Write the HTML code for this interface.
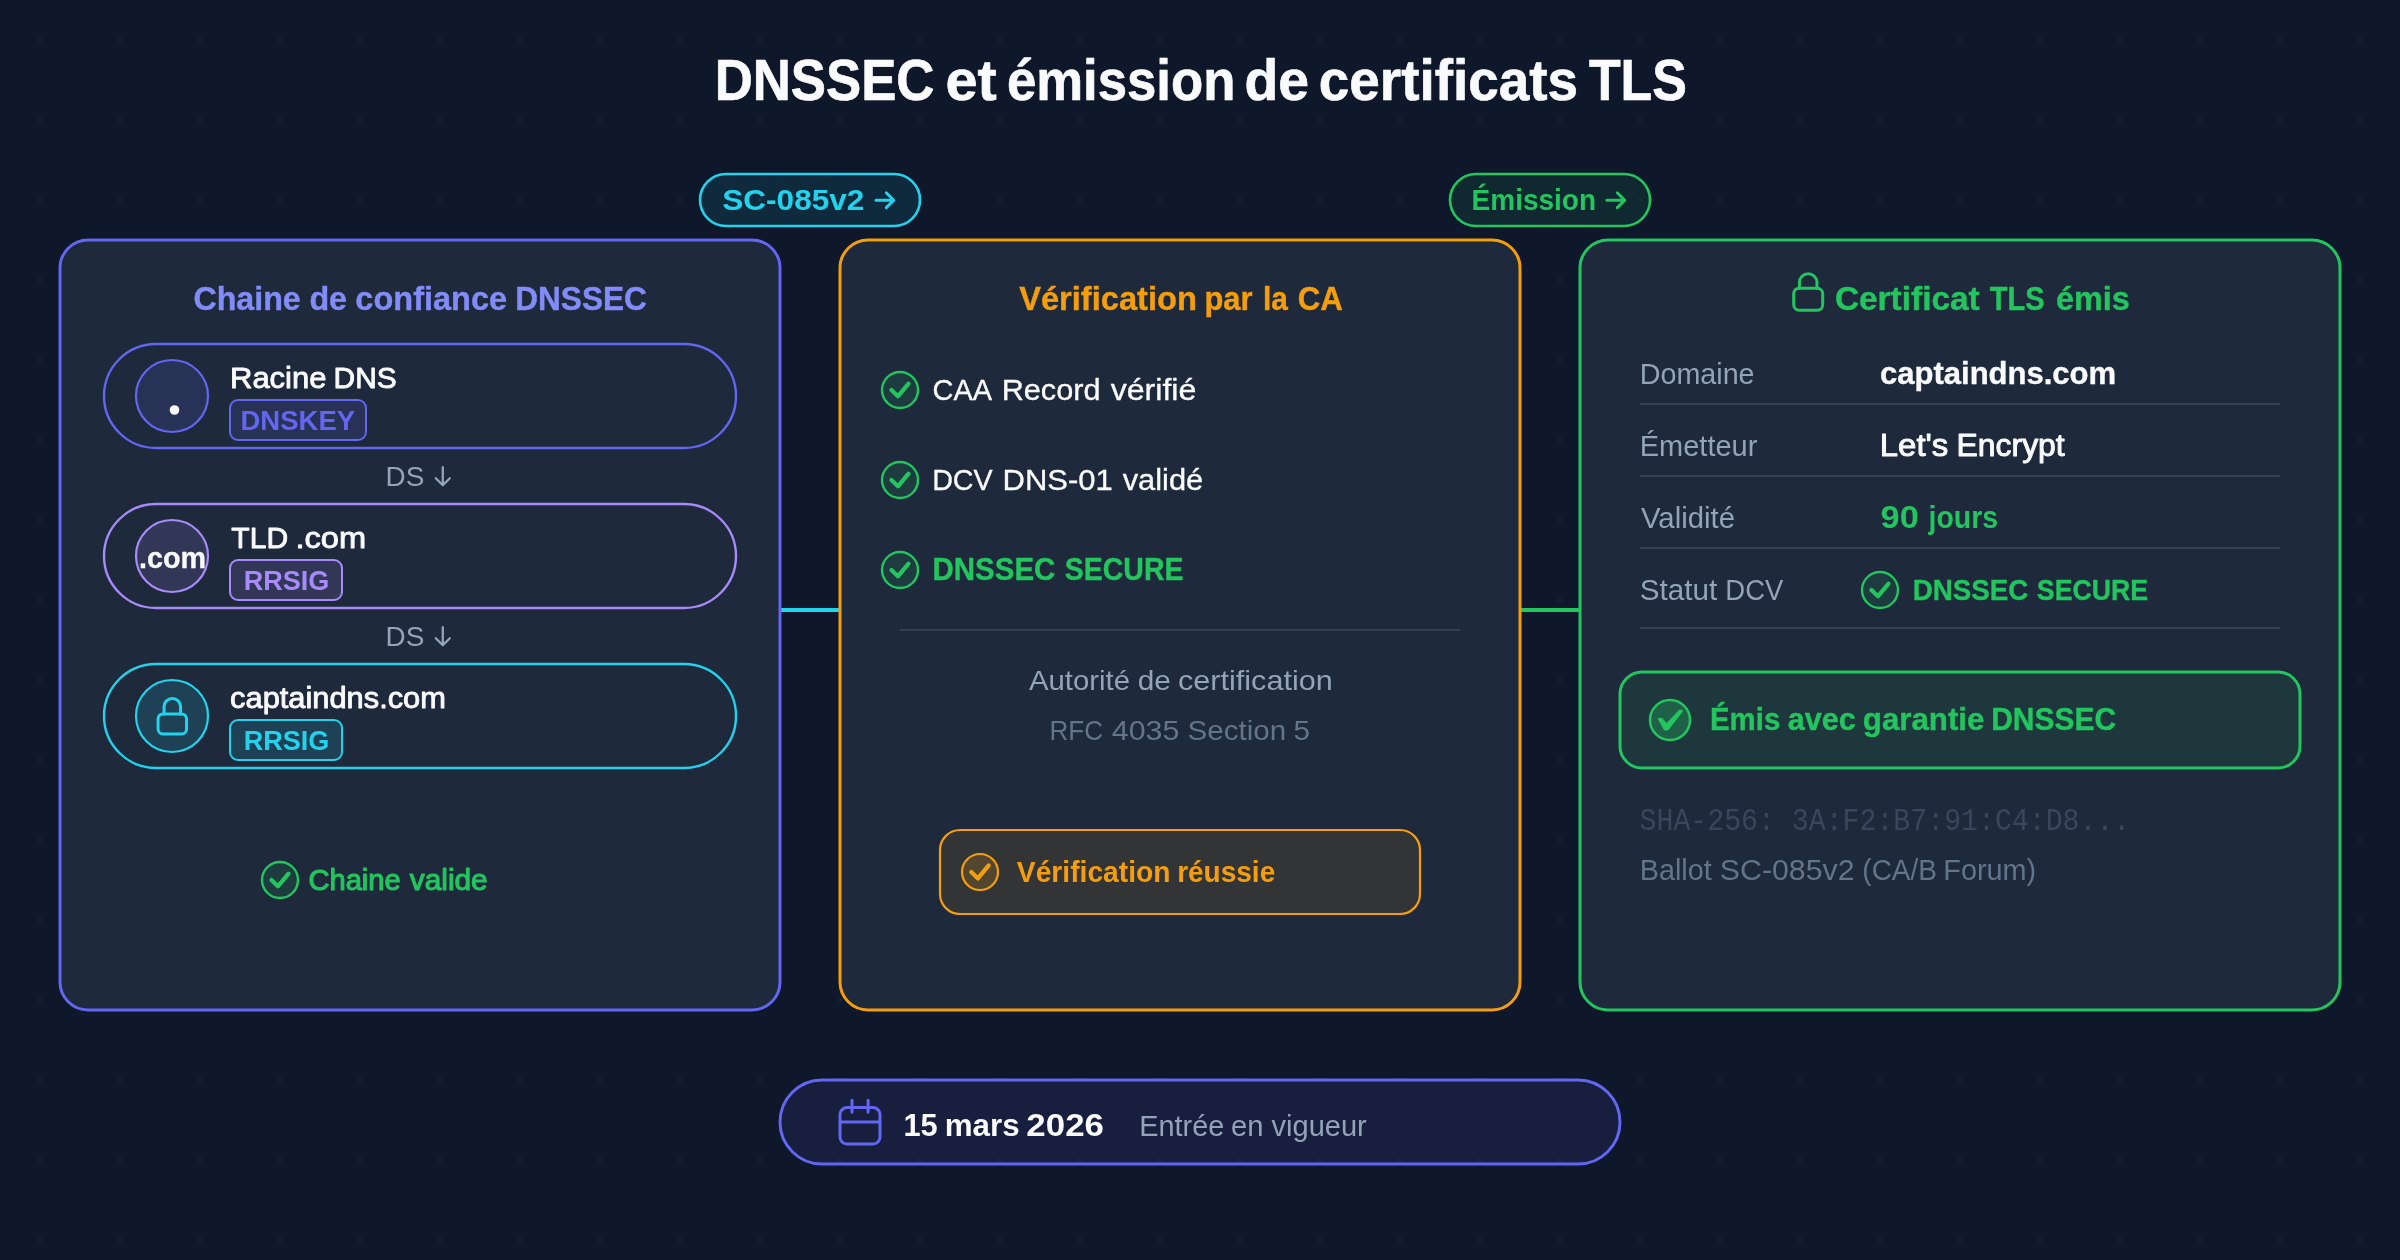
<!DOCTYPE html>
<html lang="fr"><head><meta charset="utf-8"><title>DNSSEC et émission de certificats TLS</title>
<style>
html,body{margin:0;padding:0;background:#0f172a;}
body{width:2400px;height:1260px;overflow:hidden;font-family:"Liberation Sans",sans-serif;}
svg{display:block;will-change:transform;}
svg text{font-family:"Liberation Sans",sans-serif;}
svg text.mono{font-family:"Liberation Mono",monospace;}
</style></head><body>
<svg width="2400" height="1260" viewBox="0 0 2400 1260">
<defs><pattern id="dots" x="0" y="0" width="80" height="80" patternUnits="userSpaceOnUse"><circle cx="40" cy="40" r="1.9" fill="#1e293b" fill-opacity="0.6"/></pattern></defs>
<rect width="2400" height="1260" fill="#0f172a"/>
<rect width="2400" height="1260" fill="url(#dots)"/>
<text id="title_0" x="714.75" y="100" font-size="57.5" fill="#f8fafc" font-weight="700" textLength="219.66" lengthAdjust="spacingAndGlyphs" stroke="#f8fafc" stroke-width="0.69" stroke-linejoin="round">DNSSEC</text>
<text id="title_1" x="945.43" y="100" font-size="57.5" fill="#f8fafc" font-weight="700" textLength="51.29" lengthAdjust="spacingAndGlyphs" stroke="#f8fafc" stroke-width="0.69" stroke-linejoin="round">et</text>
<text id="title_2" x="1006.89" y="100" font-size="57.5" fill="#f8fafc" font-weight="700" textLength="228.50" lengthAdjust="spacingAndGlyphs" stroke="#f8fafc" stroke-width="0.69" stroke-linejoin="round">émission</text>
<text id="title_3" x="1244.46" y="100" font-size="57.5" fill="#f8fafc" font-weight="700" textLength="64.57" lengthAdjust="spacingAndGlyphs" stroke="#f8fafc" stroke-width="0.69" stroke-linejoin="round">de</text>
<text id="title_4" x="1318.85" y="100" font-size="57.5" fill="#f8fafc" font-weight="700" textLength="259.19" lengthAdjust="spacingAndGlyphs" stroke="#f8fafc" stroke-width="0.69" stroke-linejoin="round">certificats</text>
<text id="title_5" x="1588.88" y="100" font-size="57.5" fill="#f8fafc" font-weight="700" textLength="98.01" lengthAdjust="spacingAndGlyphs" stroke="#f8fafc" stroke-width="0.69" stroke-linejoin="round">TLS</text>
<line x1="780" y1="610" x2="840" y2="610" stroke="#22d3ee" stroke-width="4"/>
<line x1="1520" y1="610" x2="1580" y2="610" stroke="#22c55e" stroke-width="4"/>
<rect x="700" y="174" width="220" height="52" rx="26" fill="#22d3ee" fill-opacity="0.1" stroke="#22d3ee" stroke-width="2.6"/>
<text id="pill1" x="722.27" y="210" font-size="29.5" fill="#22d3ee" font-weight="700" textLength="142.05" lengthAdjust="spacingAndGlyphs">SC-085v2</text>
<path d="M876 200.2H893.7M886.3000000000001 192.79999999999998L893.7 200.2L886.3000000000001 207.6" fill="none" stroke="#22d3ee" stroke-width="3" stroke-linecap="round" stroke-linejoin="round"/>
<rect x="1450" y="174" width="200" height="52" rx="26" fill="#22c55e" fill-opacity="0.1" stroke="#22c55e" stroke-width="2.6"/>
<text id="pill2" x="1471.62" y="210" font-size="29.5" fill="#22c55e" font-weight="700" textLength="124.41" lengthAdjust="spacingAndGlyphs">Émission</text>
<path d="M1606.8 200.2H1624.7M1617.3 192.79999999999998L1624.7 200.2L1617.3 207.6" fill="none" stroke="#22c55e" stroke-width="3" stroke-linecap="round" stroke-linejoin="round"/>
<rect x="60" y="240" width="720" height="770" rx="28" fill="#1e293b" stroke="#6366f1" stroke-width="3"/>
<text id="h1_0" x="193.43" y="310" font-size="33" fill="#818cf8" font-weight="700" textLength="107.35" lengthAdjust="spacingAndGlyphs" stroke="#818cf8" stroke-width="0.4" stroke-linejoin="round">Chaine</text>
<text id="h1_1" x="309.39" y="310" font-size="33" fill="#818cf8" font-weight="700" textLength="37.73" lengthAdjust="spacingAndGlyphs" stroke="#818cf8" stroke-width="0.4" stroke-linejoin="round">de</text>
<text id="h1_2" x="355.37" y="310" font-size="33" fill="#818cf8" font-weight="700" textLength="151.73" lengthAdjust="spacingAndGlyphs" stroke="#818cf8" stroke-width="0.4" stroke-linejoin="round">confiance</text>
<text id="h1_3" x="515.13" y="310" font-size="33" fill="#818cf8" font-weight="700" textLength="131.82" lengthAdjust="spacingAndGlyphs" stroke="#818cf8" stroke-width="0.4" stroke-linejoin="round">DNSSEC</text>
<rect x="104" y="344" width="632" height="104" rx="52" fill="#1e293b" stroke="#6366f1" stroke-width="2.4"/>
<circle cx="172" cy="396" r="36" fill="#6366f1" fill-opacity="0.15" stroke="#6366f1" stroke-width="2.2"/>
<text id="n1t_0" x="229.99" y="387.8" font-size="29.5" fill="#f8fafc" font-weight="400" textLength="96.52" lengthAdjust="spacingAndGlyphs" stroke="#f8fafc" stroke-width="0.89" stroke-linejoin="round">Racine</text>
<text id="n1t_1" x="333.58" y="387.8" font-size="29.5" fill="#f8fafc" font-weight="400" textLength="63.04" lengthAdjust="spacingAndGlyphs" stroke="#f8fafc" stroke-width="0.89" stroke-linejoin="round">DNS</text>
<rect x="230" y="400" width="136" height="40" rx="8" fill="#6366f1" fill-opacity="0.15" stroke="#6366f1" stroke-width="2"/>
<text id="n1b" x="240.50" y="430" font-size="27.5" fill="#6366f1" font-weight="700" textLength="114.59" lengthAdjust="spacingAndGlyphs">DNSKEY</text>
<circle cx="174.5" cy="410" r="4.8" fill="#f8fafc"/>
<text id="ds1" x="385.60" y="486" font-size="28" fill="#94a3b8" font-weight="400" textLength="38.83" lengthAdjust="spacingAndGlyphs">DS</text>
<path d="M442.8 467.2V485.2M435.8 478.2L442.8 485.2L449.8 478.2" fill="none" stroke="#94a3b8" stroke-width="2.3" stroke-linecap="round" stroke-linejoin="round"/>
<rect x="104" y="504" width="632" height="104" rx="52" fill="#1e293b" stroke="#a78bfa" stroke-width="2.4"/>
<circle cx="172" cy="556" r="36" fill="#a78bfa" fill-opacity="0.15" stroke="#a78bfa" stroke-width="2.2"/>
<text id="n2t_0" x="231.36" y="547.8" font-size="29.5" fill="#f8fafc" font-weight="400" textLength="56.73" lengthAdjust="spacingAndGlyphs" stroke="#f8fafc" stroke-width="0.89" stroke-linejoin="round">TLD</text>
<text id="n2t_1" x="295.45" y="547.8" font-size="29.5" fill="#f8fafc" font-weight="400" textLength="70.66" lengthAdjust="spacingAndGlyphs" stroke="#f8fafc" stroke-width="0.89" stroke-linejoin="round">.com</text>
<rect x="230" y="560" width="112" height="40" rx="8" fill="#a78bfa" fill-opacity="0.15" stroke="#a78bfa" stroke-width="2"/>
<text id="n2b" x="243.67" y="590" font-size="27.5" fill="#a78bfa" font-weight="700" textLength="85.66" lengthAdjust="spacingAndGlyphs">RRSIG</text>
<text id="dotcom" x="138.99" y="568" font-size="29.5" fill="#f8fafc" font-weight="700" textLength="67.03" lengthAdjust="spacingAndGlyphs" stroke="#f8fafc" stroke-width="0.35" stroke-linejoin="round">.com</text>
<text id="ds2" x="385.60" y="646" font-size="28" fill="#94a3b8" font-weight="400" textLength="38.83" lengthAdjust="spacingAndGlyphs">DS</text>
<path d="M442.8 627.2V645.2M435.8 638.2L442.8 645.2L449.8 638.2" fill="none" stroke="#94a3b8" stroke-width="2.3" stroke-linecap="round" stroke-linejoin="round"/>
<rect x="104" y="664" width="632" height="104" rx="52" fill="#1e293b" stroke="#22d3ee" stroke-width="2.4"/>
<circle cx="172" cy="716" r="36" fill="#22d3ee" fill-opacity="0.15" stroke="#22d3ee" stroke-width="2.2"/>
<text id="n3t" x="230.10" y="707.8" font-size="29.5" fill="#f8fafc" font-weight="400" textLength="215.81" lengthAdjust="spacingAndGlyphs" stroke="#f8fafc" stroke-width="0.89" stroke-linejoin="round">captaindns.com</text>
<rect x="230" y="720" width="112" height="40" rx="8" fill="#22d3ee" fill-opacity="0.15" stroke="#22d3ee" stroke-width="2"/>
<text id="n3b" x="243.67" y="750" font-size="27.5" fill="#22d3ee" font-weight="700" textLength="85.66" lengthAdjust="spacingAndGlyphs">RRSIG</text>
<g fill="none" stroke="#22d3ee" stroke-width="3" stroke-linecap="round" stroke-linejoin="round"><rect x="158.05" y="713.95" width="28.5" height="20" rx="5"/><path d="M164.05 713.95V706.65a8.25 8.25 0 0 1 16.5 0V713.95"/></g>
<circle cx="280" cy="880" r="18" fill="#22c55e" fill-opacity="0.13" stroke="#22c55e" stroke-width="2.4"/>
<path d="M271.40 880.10L277.90 886.30L288.50 873.60" fill="none" stroke="#22c55e" stroke-width="4.2" stroke-linecap="round" stroke-linejoin="round"/>
<text id="valid_0" x="308.43" y="890" font-size="28.8" fill="#22c55e" font-weight="400" textLength="92.24" lengthAdjust="spacingAndGlyphs" stroke="#22c55e" stroke-width="1.1" stroke-linejoin="round">Chaine</text>
<text id="valid_1" x="409.79" y="890" font-size="28.8" fill="#22c55e" font-weight="400" textLength="77.90" lengthAdjust="spacingAndGlyphs" stroke="#22c55e" stroke-width="1.1" stroke-linejoin="round">valide</text>
<rect x="840" y="240" width="680" height="770" rx="28" fill="#1e293b" stroke="#f59e0b" stroke-width="3"/>
<text id="h2_0" x="1019.17" y="310" font-size="33" fill="#f59e0b" font-weight="700" textLength="177.66" lengthAdjust="spacingAndGlyphs" stroke="#f59e0b" stroke-width="0.4" stroke-linejoin="round">Vérification</text>
<text id="h2_1" x="1204.47" y="310" font-size="33" fill="#f59e0b" font-weight="700" textLength="48.06" lengthAdjust="spacingAndGlyphs" stroke="#f59e0b" stroke-width="0.4" stroke-linejoin="round">par</text>
<text id="h2_2" x="1262.90" y="310" font-size="33" fill="#f59e0b" font-weight="700" textLength="24.86" lengthAdjust="spacingAndGlyphs" stroke="#f59e0b" stroke-width="0.4" stroke-linejoin="round">la</text>
<text id="h2_3" x="1297.75" y="310" font-size="33" fill="#f59e0b" font-weight="700" textLength="45.17" lengthAdjust="spacingAndGlyphs" stroke="#f59e0b" stroke-width="0.4" stroke-linejoin="round">CA</text>
<circle cx="900" cy="390" r="18" fill="#22c55e" fill-opacity="0.13" stroke="#22c55e" stroke-width="2.4"/>
<path d="M891.40 390.10L897.90 396.30L908.50 383.60" fill="none" stroke="#22c55e" stroke-width="4.2" stroke-linecap="round" stroke-linejoin="round"/>
<text id="c1_0" x="932.56" y="400.2" font-size="30" fill="#f8fafc" font-weight="400" textLength="59.51" lengthAdjust="spacingAndGlyphs" stroke="#f8fafc" stroke-width="0.35" stroke-linejoin="round">CAA</text>
<text id="c1_1" x="1001.67" y="400.2" font-size="30" fill="#f8fafc" font-weight="400" textLength="98.90" lengthAdjust="spacingAndGlyphs" stroke="#f8fafc" stroke-width="0.35" stroke-linejoin="round">Record</text>
<text id="c1_2" x="1110.70" y="400.2" font-size="30" fill="#f8fafc" font-weight="400" textLength="85.65" lengthAdjust="spacingAndGlyphs" stroke="#f8fafc" stroke-width="0.35" stroke-linejoin="round">vérifié</text>
<circle cx="900" cy="480" r="18" fill="#22c55e" fill-opacity="0.13" stroke="#22c55e" stroke-width="2.4"/>
<path d="M891.40 480.10L897.90 486.30L908.50 473.60" fill="none" stroke="#22c55e" stroke-width="4.2" stroke-linecap="round" stroke-linejoin="round"/>
<text id="c2_0" x="932.18" y="490.2" font-size="30" fill="#f8fafc" font-weight="400" textLength="60.53" lengthAdjust="spacingAndGlyphs" stroke="#f8fafc" stroke-width="0.35" stroke-linejoin="round">DCV</text>
<text id="c2_1" x="1002.54" y="490.2" font-size="30" fill="#f8fafc" font-weight="400" textLength="110.14" lengthAdjust="spacingAndGlyphs" stroke="#f8fafc" stroke-width="0.35" stroke-linejoin="round">DNS-01</text>
<text id="c2_2" x="1122.70" y="490.2" font-size="30" fill="#f8fafc" font-weight="400" textLength="80.59" lengthAdjust="spacingAndGlyphs" stroke="#f8fafc" stroke-width="0.35" stroke-linejoin="round">validé</text>
<circle cx="900" cy="570" r="18" fill="#22c55e" fill-opacity="0.13" stroke="#22c55e" stroke-width="2.4"/>
<path d="M891.40 570.10L897.90 576.30L908.50 563.60" fill="none" stroke="#22c55e" stroke-width="4.2" stroke-linecap="round" stroke-linejoin="round"/>
<text id="c3_0" x="932.56" y="579.7" font-size="31" fill="#22c55e" font-weight="700" textLength="122.83" lengthAdjust="spacingAndGlyphs" stroke="#22c55e" stroke-width="0.37" stroke-linejoin="round">DNSSEC</text>
<text id="c3_1" x="1064.84" y="579.7" font-size="31" fill="#22c55e" font-weight="700" textLength="118.59" lengthAdjust="spacingAndGlyphs" stroke="#22c55e" stroke-width="0.37" stroke-linejoin="round">SECURE</text>
<line x1="900" y1="630" x2="1460" y2="630" stroke="#334155" stroke-width="2"/>
<text id="auth_0" x="1028.96" y="690" font-size="28.5" fill="#94a3b8" font-weight="400" textLength="101.09" lengthAdjust="spacingAndGlyphs">Autorité</text>
<text id="auth_1" x="1137.65" y="690" font-size="28.5" fill="#94a3b8" font-weight="400" textLength="33.16" lengthAdjust="spacingAndGlyphs">de</text>
<text id="auth_2" x="1178.03" y="690" font-size="28.5" fill="#94a3b8" font-weight="400" textLength="154.72" lengthAdjust="spacingAndGlyphs">certification</text>
<text id="rfc_0" x="1049.56" y="740" font-size="28.5" fill="#64748b" font-weight="400" textLength="53.57" lengthAdjust="spacingAndGlyphs">RFC</text>
<text id="rfc_1" x="1111.83" y="740" font-size="28.5" fill="#64748b" font-weight="400" textLength="67.56" lengthAdjust="spacingAndGlyphs">4035</text>
<text id="rfc_2" x="1187.59" y="740" font-size="28.5" fill="#64748b" font-weight="400" textLength="98.59" lengthAdjust="spacingAndGlyphs">Section</text>
<text id="rfc_3" x="1293.59" y="740" font-size="28.5" fill="#64748b" font-weight="400" textLength="16.50" lengthAdjust="spacingAndGlyphs">5</text>
<rect x="940" y="830" width="480" height="84" rx="20" fill="#f59e0b" fill-opacity="0.1" stroke="#f59e0b" stroke-width="2.2"/>
<circle cx="980" cy="872" r="18" fill="#f59e0b" fill-opacity="0.17" stroke="#f59e0b" stroke-width="2.2"/>
<path d="M971.23 872.10L977.86 878.43L988.67 865.47" fill="none" stroke="#f59e0b" stroke-width="4.2" stroke-linecap="round" stroke-linejoin="round"/>
<text id="succ_0" x="1016.85" y="881.7" font-size="29.5" fill="#f59e0b" font-weight="700" textLength="153.67" lengthAdjust="spacingAndGlyphs">Vérification</text>
<text id="succ_1" x="1177.16" y="881.7" font-size="29.5" fill="#f59e0b" font-weight="700" textLength="98.05" lengthAdjust="spacingAndGlyphs">réussie</text>
<rect x="1580" y="240" width="760" height="770" rx="28" fill="#1e293b" stroke="#22c55e" stroke-width="3"/>
<g fill="none" stroke="#22c55e" stroke-width="3" stroke-linecap="round" stroke-linejoin="round"><rect x="1793.70" y="288.25" width="29" height="22" rx="5.5"/><path d="M1799.45 288.25V282.45a8.75 8.75 0 0 1 17.5 0V288.25"/></g>
<text id="h3_0" x="1834.92" y="309.8" font-size="33" fill="#22c55e" font-weight="700" textLength="144.84" lengthAdjust="spacingAndGlyphs" stroke="#22c55e" stroke-width="0.4" stroke-linejoin="round">Certificat</text>
<text id="h3_1" x="1989.78" y="309.8" font-size="33" fill="#22c55e" font-weight="700" textLength="54.76" lengthAdjust="spacingAndGlyphs" stroke="#22c55e" stroke-width="0.4" stroke-linejoin="round">TLS</text>
<text id="h3_2" x="2055.92" y="309.8" font-size="33" fill="#22c55e" font-weight="700" textLength="73.79" lengthAdjust="spacingAndGlyphs" stroke="#22c55e" stroke-width="0.4" stroke-linejoin="round">émis</text>
<text id="l1" x="1639.76" y="384.3" font-size="29.5" fill="#94a3b8" font-weight="400" textLength="114.82" lengthAdjust="spacingAndGlyphs">Domaine</text>
<text id="l2" x="1639.74" y="456.3" font-size="29.5" fill="#94a3b8" font-weight="400" textLength="117.59" lengthAdjust="spacingAndGlyphs">Émetteur</text>
<text id="l3" x="1640.95" y="528.2" font-size="29.5" fill="#94a3b8" font-weight="400" textLength="94.07" lengthAdjust="spacingAndGlyphs">Validité</text>
<text id="l4_0" x="1639.70" y="600.2" font-size="29.5" fill="#94a3b8" font-weight="400" textLength="77.43" lengthAdjust="spacingAndGlyphs">Statut</text>
<text id="l4_1" x="1725.36" y="600.2" font-size="29.5" fill="#94a3b8" font-weight="400" textLength="57.96" lengthAdjust="spacingAndGlyphs">DCV</text>
<text id="v1" x="1879.98" y="384.3" font-size="32" fill="#f8fafc" font-weight="700" textLength="236.19" lengthAdjust="spacingAndGlyphs" stroke="#f8fafc" stroke-width="0.38" stroke-linejoin="round">captaindns.com</text>
<text id="v2_0" x="1879.77" y="456.3" font-size="31" fill="#f8fafc" font-weight="400" textLength="68.52" lengthAdjust="spacingAndGlyphs" stroke="#f8fafc" stroke-width="0.93" stroke-linejoin="round">Let's</text>
<text id="v2_1" x="1956.56" y="456.3" font-size="31" fill="#f8fafc" font-weight="400" textLength="108.18" lengthAdjust="spacingAndGlyphs" stroke="#f8fafc" stroke-width="0.93" stroke-linejoin="round">Encrypt</text>
<text id="v3_0" x="1880.64" y="528.2" font-size="31" fill="#22c55e" font-weight="700" textLength="38.19" lengthAdjust="spacingAndGlyphs">90</text>
<text id="v3_1" x="1928.53" y="528.2" font-size="31" fill="#22c55e" font-weight="700" textLength="69.52" lengthAdjust="spacingAndGlyphs">jours</text>
<circle cx="1880" cy="590" r="18" fill="#22c55e" fill-opacity="0.13" stroke="#22c55e" stroke-width="2.4"/>
<path d="M1871.40 590.10L1877.90 596.30L1888.50 583.60" fill="none" stroke="#22c55e" stroke-width="4.2" stroke-linecap="round" stroke-linejoin="round"/>
<text id="v4_0" x="1912.70" y="600.2" font-size="29.5" fill="#22c55e" font-weight="700" textLength="115.53" lengthAdjust="spacingAndGlyphs" stroke="#22c55e" stroke-width="0.35" stroke-linejoin="round">DNSSEC</text>
<text id="v4_1" x="2036.85" y="600.2" font-size="29.5" fill="#22c55e" font-weight="700" textLength="111.33" lengthAdjust="spacingAndGlyphs" stroke="#22c55e" stroke-width="0.35" stroke-linejoin="round">SECURE</text>
<line x1="1640" y1="404" x2="2280" y2="404" stroke="#334155" stroke-width="2"/>
<line x1="1640" y1="476" x2="2280" y2="476" stroke="#334155" stroke-width="2"/>
<line x1="1640" y1="548" x2="2280" y2="548" stroke="#334155" stroke-width="2"/>
<line x1="1640" y1="628" x2="2280" y2="628" stroke="#334155" stroke-width="2"/>
<rect x="1620" y="672" width="680" height="96" rx="22" fill="#22c55e" fill-opacity="0.09" stroke="#22c55e" stroke-width="3"/>
<circle cx="1670" cy="720" r="20" fill="#22c55e" fill-opacity="0.3" stroke="#22c55e" stroke-width="2.5"/>
<path d="M1658.1 718.7L1661.6 718.1L1666.75 723.4L1679.4 710L1682.2 710.3L1682 712.1L1668 730L1664.4 730Z" fill="#22c55e" stroke="#22c55e" stroke-width="0.9" stroke-linejoin="round"/>
<text id="emis_0" x="1709.96" y="730.3" font-size="31.5" fill="#22c55e" font-weight="700" textLength="70.32" lengthAdjust="spacingAndGlyphs" stroke="#22c55e" stroke-width="0.38" stroke-linejoin="round">Émis</text>
<text id="emis_1" x="1787.80" y="730.3" font-size="31.5" fill="#22c55e" font-weight="700" textLength="68.06" lengthAdjust="spacingAndGlyphs" stroke="#22c55e" stroke-width="0.38" stroke-linejoin="round">avec</text>
<text id="emis_2" x="1862.81" y="730.3" font-size="31.5" fill="#22c55e" font-weight="700" textLength="121.59" lengthAdjust="spacingAndGlyphs" stroke="#22c55e" stroke-width="0.38" stroke-linejoin="round">garantie</text>
<text id="emis_3" x="1991.19" y="730.3" font-size="31.5" fill="#22c55e" font-weight="700" textLength="124.95" lengthAdjust="spacingAndGlyphs" stroke="#22c55e" stroke-width="0.38" stroke-linejoin="round">DNSSEC</text>
<text id="sha" x="1639.61" y="830.3" font-size="32" fill="#3a465d" font-weight="400" textLength="490.61" lengthAdjust="spacingAndGlyphs" class="mono">SHA-256: 3A:F2:B7:91:C4:D8...</text>
<text id="ballot_0" x="1639.72" y="880.4" font-size="29" fill="#64748b" font-weight="400" textLength="72.04" lengthAdjust="spacingAndGlyphs">Ballot</text>
<text id="ballot_1" x="1719.87" y="880.4" font-size="29" fill="#64748b" font-weight="400" textLength="134.66" lengthAdjust="spacingAndGlyphs">SC-085v2</text>
<text id="ballot_2" x="1862.32" y="880.4" font-size="29" fill="#64748b" font-weight="400" textLength="74.59" lengthAdjust="spacingAndGlyphs">(CA/B</text>
<text id="ballot_3" x="1943.29" y="880.4" font-size="29" fill="#64748b" font-weight="400" textLength="92.91" lengthAdjust="spacingAndGlyphs">Forum)</text>
<rect x="780" y="1080" width="840" height="84" rx="42" fill="#6366f1" fill-opacity="0.1" stroke="#6366f1" stroke-width="3"/>
<g fill="none" stroke="#6366f1" stroke-width="3" stroke-linecap="round" stroke-linejoin="round"><rect x="840" y="1107.6" width="40" height="36.4" rx="7"/><path d="M840 1122H880M852 1100.3V1112.2M868.1 1100.3V1112.2"/></g>
<text id="date_0" x="903.44" y="1136" font-size="31.5" fill="#f8fafc" font-weight="700" textLength="34.25" lengthAdjust="spacingAndGlyphs">15</text>
<text id="date_1" x="944.73" y="1136" font-size="31.5" fill="#f8fafc" font-weight="700" textLength="74.84" lengthAdjust="spacingAndGlyphs">mars</text>
<text id="date_2" x="1026.36" y="1136" font-size="31.5" fill="#f8fafc" font-weight="700" textLength="77.59" lengthAdjust="spacingAndGlyphs">2026</text>
<text id="entry_0" x="1139.28" y="1136" font-size="29" fill="#94a3b8" font-weight="400" textLength="85.09" lengthAdjust="spacingAndGlyphs">Entrée</text>
<text id="entry_1" x="1231.05" y="1136" font-size="29" fill="#94a3b8" font-weight="400" textLength="32.56" lengthAdjust="spacingAndGlyphs">en</text>
<text id="entry_2" x="1271.55" y="1136" font-size="29" fill="#94a3b8" font-weight="400" textLength="95.24" lengthAdjust="spacingAndGlyphs">vigueur</text>
</svg></body></html>
